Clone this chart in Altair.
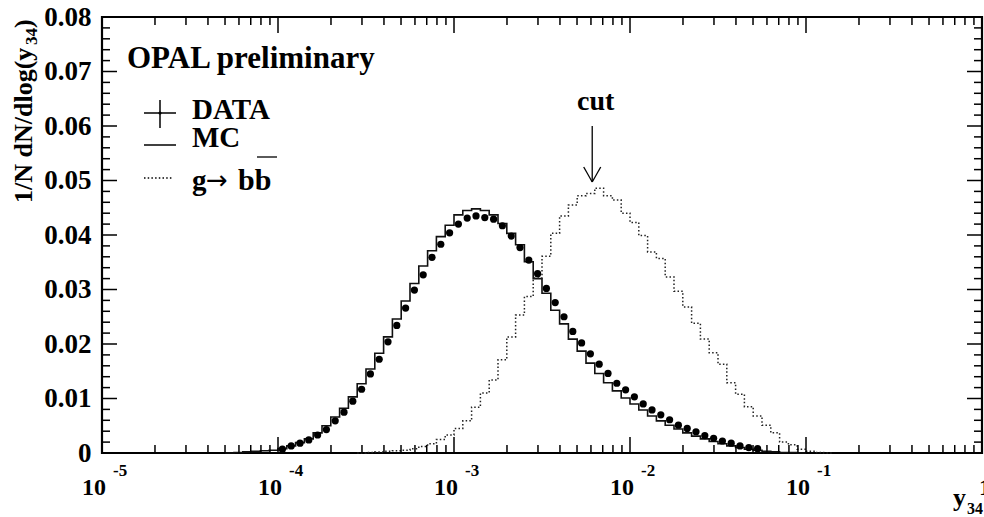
import altair as alt
import pandas as pd

# ---------------- binning (20 log bins per decade, 1e-5 .. 1) ----------------
LOG_MIN = -5.0
BIN_WIDTH = 0.05

# ---------------- data ----------------
DATA_FIRST_BIN = 20
DATA_VALUES = [0.0007, 0.0013, 0.0018, 0.0024, 0.0033, 0.0043, 0.0059, 0.0075, 0.0095, 0.0117,
               0.0145, 0.0172, 0.0204, 0.0234, 0.0266, 0.0299, 0.0327, 0.0359, 0.0383, 0.0404,
               0.0420, 0.0431, 0.0435, 0.0432, 0.0429, 0.0417, 0.0398, 0.0377, 0.0354, 0.0329,
               0.0302, 0.0276, 0.0250, 0.0223, 0.0202, 0.0182, 0.0163, 0.0146, 0.0128, 0.0116,
               0.0103, 0.0090, 0.0079, 0.0070, 0.0061, 0.0051, 0.0045, 0.0039, 0.0032, 0.0027,
               0.0022, 0.0018, 0.0013, 0.0010, 0.0008]

MC_FIRST_BIN = 14
MC_VALUES = [0.0, 0.0001, 0.0002, 0.0003, 0.0004, 0.0005,
             0.0008, 0.0013, 0.0019, 0.0026, 0.0037, 0.0050, 0.0066, 0.0082, 0.0103, 0.0127,
             0.0154, 0.0183, 0.0213, 0.0246, 0.0279, 0.0311, 0.0343, 0.0371, 0.0397, 0.0418,
             0.0437, 0.0445, 0.0448, 0.0445, 0.0437, 0.0421, 0.0403, 0.0382, 0.0351, 0.0320,
             0.0293, 0.0262, 0.0237, 0.0209, 0.0187, 0.0165, 0.0146, 0.0129, 0.0114, 0.0101,
             0.0090, 0.0079, 0.0068, 0.0059, 0.0051, 0.0044, 0.0037, 0.0031, 0.0026, 0.0021,
             0.0017, 0.0013, 0.0010, 0.0007, 0.0005, 0.0003, 0.0002, 0.0001, 0.0001, 0.0]

BB_FIRST_BIN = 29
BB_VALUES = [0.0,
             0.0001, 0.0002, 0.0003, 0.0004, 0.0005, 0.0008, 0.0012, 0.0017, 0.0025, 0.0033,
             0.0045, 0.0059, 0.0084, 0.0110, 0.0134, 0.0171, 0.0213, 0.0253, 0.0287, 0.0321,
             0.0361, 0.0403, 0.0435, 0.0455, 0.0472, 0.0476, 0.0486, 0.0472, 0.0464, 0.0440,
             0.0423, 0.0399, 0.0369, 0.0357, 0.0323, 0.0297, 0.0268, 0.0238, 0.0209, 0.0184,
             0.0163, 0.0129, 0.0108, 0.0085, 0.0068, 0.0051, 0.0037, 0.0020, 0.0015, 0.0007,
             0.0003, 0.0001, 0.0]

CUT_VALUE = 0.0061

# ---------------- axis ticks / labels ----------------
Y_MAJOR = [0.0, 0.01, 0.02, 0.03, 0.04, 0.05, 0.06, 0.07, 0.08]
Y_MINOR = [round(i * 0.002, 3) for i in range(41) if i % 5 != 0]
X_MAJOR = [1e-5, 1e-4, 1e-3, 1e-2, 1e-1, 1.0]
X_MINOR = [m * 10.0 ** e for e in range(-5, 0) for m in range(2, 10)]
X_EXPONENTS = ["-5", "-4", "-3", "-2", "-1"]

W, H = 880, 436
FONT = "Liberation Serif"

# ---------------- tables ----------------
def step_table(first, vals):
    rows = []
    for i, v in enumerate(vals):
        rows.append({"y34": 10 ** (LOG_MIN + (first + i) * BIN_WIDTH), "v": v, "o": i})
    rows.append({"y34": 10 ** (LOG_MIN + (first + len(vals)) * BIN_WIDTH), "v": 0.0, "o": len(vals)})
    return pd.DataFrame(rows)

mc_df = step_table(MC_FIRST_BIN, MC_VALUES)
bb_df = step_table(BB_FIRST_BIN, BB_VALUES)
data_df = pd.DataFrame({
    "y34": [10 ** (LOG_MIN + (DATA_FIRST_BIN + i + 0.5) * BIN_WIDTH) for i in range(len(DATA_VALUES))],
    "v": DATA_VALUES,
})

xs = alt.Scale(type="log", domain=[1e-5, 1.0], nice=False)
ys = alt.Scale(domain=[0, 0.08], nice=False, zero=False)
y_axis = alt.Axis(values=Y_MAJOR, ticks=False, domain=False, grid=False,
                  labelFont=FONT, labelFontSize=27, labelFontWeight="bold",
                  labelColor="black", labelPadding=11, labelFlush=False,
                  labelExpr="datum.value == 0 ? '0' : format(datum.value, '.2f')",
                  title=None)

def X(field="y34"):
    return alt.X(f"{field}:Q", scale=xs, axis=None)

def Y(field="v"):
    return alt.Y(f"{field}:Q", scale=ys, axis=y_axis)

one = pd.DataFrame({"a": [0]})

# ---------------- layers ----------------
mc = alt.Chart(mc_df).mark_line(interpolate="step-after", color="#111111", strokeWidth=1.6).encode(
    x=X(), y=Y(), order="o:Q")
bb = alt.Chart(bb_df).mark_line(interpolate="step-after", color="#222222", strokeWidth=1.5,
                                strokeDash=[1.5, 2.2]).encode(x=X(), y=Y(), order="o:Q")
dots = alt.Chart(data_df).mark_circle(size=52, color="black", opacity=1).encode(x=X(), y=Y())

ydf_major = pd.DataFrame({"t": Y_MAJOR})
ydf_minor = pd.DataFrame({"t": Y_MINOR})
xdf_major = pd.DataFrame({"t": X_MAJOR})
xdf_minor = pd.DataFrame({"t": X_MINOR})

def ytick(df, x0, x1):
    return alt.Chart(df).mark_rule(color="black", strokeWidth=1.5).encode(
        y=Y("t"), x=alt.value(x0), x2=alt.value(x1))

def xtick(df, y0, y1):
    return alt.Chart(df).mark_rule(color="black", strokeWidth=1.5).encode(
        x=X("t"), y=alt.value(y0), y2=alt.value(y1))

ticks = [
    ytick(ydf_major, 0, 15), ytick(ydf_minor, 0, 8),
    ytick(ydf_major, W, W - 15), ytick(ydf_minor, W, W - 8),
    xtick(xdf_major, H, H - 16), xtick(xdf_minor, H, H - 8),
    xtick(xdf_major, 0, 16), xtick(xdf_minor, 0, 8),
]

# x tick labels: 10^n
ten_df = pd.DataFrame({"t": X_MAJOR[:-1], "lab": ["10"] * 5})
exp_df = pd.DataFrame({"t": X_MAJOR[:-1], "lab": X_EXPONENTS})
one_df = pd.DataFrame({"t": [X_MAJOR[-1]], "lab": ["1"]})
ten_lbl = alt.Chart(ten_df).mark_text(font=FONT, fontSize=24, fontWeight="bold", align="center",
                                      baseline="alphabetic", dx=-8, color="black").encode(
    x=X("t"), y=alt.value(H + 42), text="lab:N")
exp_lbl = alt.Chart(exp_df).mark_text(font=FONT, fontSize=17, fontWeight="bold", align="left",
                                      baseline="alphabetic", dx=11, color="black").encode(
    x=X("t"), y=alt.value(H + 23), text="lab:N")
one_lbl = alt.Chart(one_df).mark_text(font=FONT, fontSize=24, fontWeight="bold", align="center",
                                      baseline="alphabetic", dx=3, color="black").encode(
    x=X("t"), y=alt.value(H + 42), text="lab:N")

def txt(s, x, y, size, align="left", angle=0, font=FONT, weight="bold"):
    kw = dict(font=font, fontSize=size, fontWeight=weight, align=align,
              baseline="alphabetic", color="black")
    if angle:
        kw["angle"] = angle
    return alt.Chart(one).mark_text(**kw).encode(
        x=alt.value(x), y=alt.value(y), text=alt.value(s))

# axis titles
titles = [
    txt("1/N dN/dlog(y", -70, 186, 26, angle=270),
    txt("34", -65, 28, 17, angle=270),
    txt(")", -70, 11, 26, angle=270),
    txt("y", 851, 489, 26),
    txt("34", 865, 497, 16),
]

# legend
def rule(x0, x1, y0, y1, dash=None, width=1.5):
    kw = dict(color="black", strokeWidth=width)
    if dash:
        kw["strokeDash"] = dash
    return alt.Chart(one).mark_rule(**kw).encode(
        x=alt.value(x0), x2=alt.value(x1), y=alt.value(y0), y2=alt.value(y1))

legend = [
    txt("OPAL preliminary", 25, 51, 31),
    rule(42, 74, 96, 96), rule(58, 58, 83, 111),
    alt.Chart(one).mark_circle(size=10, color="black", opacity=1).encode(
        x=alt.value(58), y=alt.value(96)),
    txt("DATA", 90, 102, 29),
    rule(42, 74, 128, 128),
    txt("MC", 90, 130, 29),
    rule(42, 70, 161, 161, dash=[1.5, 2.2]),
    txt("g", 90, 173, 29),
    txt("\u2192", 104, 172, 26, font="DejaVu Sans", weight="normal"),
    txt("bb", 136, 173, 30),
    rule(155, 175, 140, 140, width=1.3),
]

# cut arrow
cut_df = pd.DataFrame({"t": [CUT_VALUE], "lab": ["cut"]})
cut_text = alt.Chart(cut_df).mark_text(font=FONT, fontSize=28, fontWeight="bold", align="center",
                                       baseline="alphabetic", dx=3.5, color="black").encode(
    x=X("t"), y=alt.value(93), text="lab:N")
cut_line = alt.Chart(cut_df).mark_rule(color="black", strokeWidth=1.3).encode(
    x=X("t"), y=alt.value(109), y2=alt.value(165))
cut_head_l = alt.Chart(cut_df).mark_rule(color="black", strokeWidth=1.3, xOffset=-8.5, x2Offset=0).encode(
    x=X("t"), x2=alt.X2("t"), y=alt.value(150), y2=alt.value(165))
cut_head_r = alt.Chart(cut_df).mark_rule(color="black", strokeWidth=1.3, xOffset=8.5, x2Offset=0).encode(
    x=X("t"), x2=alt.X2("t"), y=alt.value(150), y2=alt.value(165))

chart = alt.layer(
    mc, bb, dots, *ticks, ten_lbl, exp_lbl, one_lbl, *titles, *legend,
    cut_text, cut_line, cut_head_l, cut_head_r,
).properties(
    width=W, height=H,
    autosize=alt.AutoSizeParams(type="none"),
    padding={"left": 102, "top": 17, "right": 2, "bottom": 64},
    background="white",
).configure_view(stroke="black", strokeWidth=2.2)

chart.save("out.html", embed_options={"renderer": "svg", "actions": False})
